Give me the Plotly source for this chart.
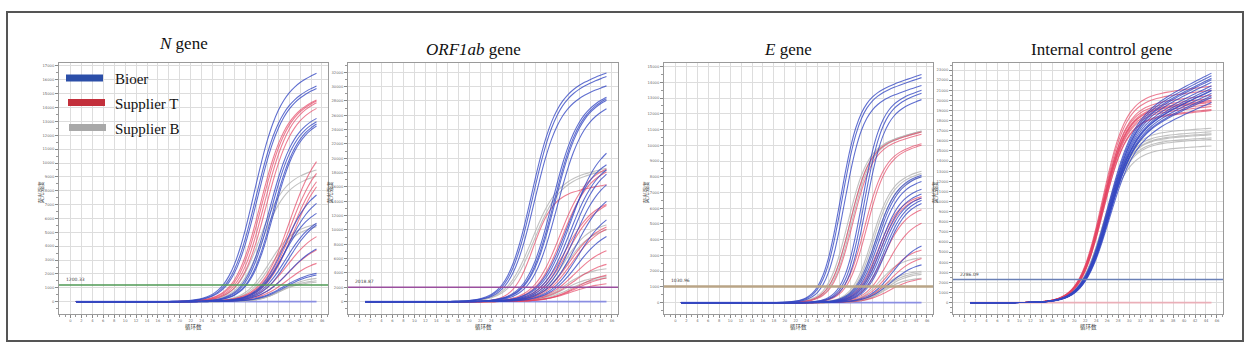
import numpy as np
import plotly.graph_objects as go

W, H = 1252, 356
cycles = np.arange(1, 46)

# ---------------- data ----------------
# each curve: threshold cycle (Ct), fluorescence at cycle 45, curve steepness
# N gene
n_threshold = 1200.33
n_blue_ct = [27.9, 28.3, 28.6, 31.3, 31.6, 32.0, 32.2, 35.0, 35.5, 35.3, 36.0, 36.5, 37.5, 39.5, 40.0]
n_blue_end = [16470, 15550, 15380, 13220, 12980, 12810, 12670, 7690, 7090, 6370, 5650, 5530, 3800, 2040, 1920]
n_blue_s = [2.3, 2.3, 2.3, 2.2, 2.2, 2.2, 2.2, 2.4, 2.4, 2.4, 2.4, 2.4, 2.6, 2.4, 2.4]
n_red_ct = [29.3, 29.6, 30.0, 30.4, 34.5, 34.8, 35.2, 35.6, 36.5, 37.5, 38.5]
n_red_end = [14540, 14470, 14350, 13940, 10100, 9250, 8650, 8290, 4690, 3730, 2760]
n_red_s = [2.3, 2.3, 2.3, 2.3, 2.6, 2.6, 2.6, 2.6, 2.6, 2.6, 2.6]
n_gray_ct = [30.5, 31.0, 33.5, 34.0, 40.5, 41.0, 41.5]
n_gray_end = [9500, 9050, 5600, 5400, 1680, 1510, 1400]
n_gray_s = [2.2, 2.2, 2.2, 2.2, 2.0, 2.0, 2.0]

# ORF1ab gene
o_threshold = 2018.87
o_blue_ct = [25.6, 25.9, 26.3, 29.3, 29.6, 29.8, 30.3, 32.5, 32.2, 33.0, 33.5, 34.0, 34.5, 35.5, 36.0]
o_blue_end = [31900, 31400, 30100, 28500, 28300, 28100, 26900, 20700, 19100, 18400, 17800, 16300, 14000, 11400, 9100]
o_blue_s = [2.2, 2.2, 2.2, 2.3, 2.3, 2.3, 2.3, 2.6, 2.5, 2.5, 2.5, 2.5, 2.6, 2.6, 2.6]
o_red_ct = [28.3, 31.5, 32.0, 33.0, 33.5, 34.5, 35.0, 36.5, 37.5, 39.5, 40.0, 41.5]
o_red_end = [16300, 18500, 18100, 13600, 13400, 10400, 10100, 7100, 5200, 3700, 3300, 2500]
o_red_s = [1.8, 2.4, 2.4, 2.5, 2.5, 2.5, 2.5, 2.6, 2.6, 2.6, 2.6, 2.6]
o_gray_ct = [26.8, 27.2, 34.0, 34.5, 37.0, 38.0, 39.0]
o_gray_end = [18600, 18300, 10700, 10000, 4600, 3500, 3300]
o_gray_s = [2.3, 2.3, 2.2, 2.2, 2.2, 2.2, 2.4]

# E gene
e_threshold = 1030.96
e_blue_ct = [26.0, 26.3, 26.8, 30.0, 30.4, 30.8, 33.0, 33.3, 33.6, 34.0, 34.3, 34.6, 35.0, 35.3, 37.5, 38.5]
e_blue_end = [14500, 14300, 13800, 13500, 13300, 12900, 8100, 8000, 7700, 7200, 6900, 6650, 6500, 6300, 3600, 2400]
e_blue_s = [1.7, 1.7, 1.7, 1.7, 1.7, 1.7, 1.9, 1.9, 1.9, 1.9, 1.9, 1.9, 1.9, 1.9, 2.2, 2.2]
e_red_ct = [28.0, 28.5, 30.8, 31.2, 33.8, 34.2, 35.0, 36.0, 37.0, 38.0, 40.5]
e_red_end = [10850, 10700, 10100, 10000, 6750, 6650, 5900, 5050, 3350, 2800, 1500]
e_red_s = [1.8, 1.8, 1.8, 1.8, 1.9, 1.9, 2.0, 2.1, 2.1, 2.1, 2.1]
e_gray_ct = [27.6, 28.0, 28.3, 32.5, 32.8, 33.2, 36.5, 38.0, 38.5, 39.0, 39.5]
e_gray_end = [10900, 10900, 10850, 8350, 8200, 8000, 2850, 2000, 1900, 1800, 1550]
e_gray_s = [1.8, 1.8, 1.8, 1.8, 1.8, 1.8, 1.8, 1.8, 1.8, 1.8, 1.8]

# Internal control gene
ic_threshold = 2286.09
ic_blue_ct = [21.6, 21.7, 21.8, 21.8, 21.9, 21.9, 22.0, 22.0, 22.1, 22.1, 22.2, 21.9, 22.0]
ic_blue_end = [22700, 22450, 22200, 22050, 21800, 21450, 21200, 20950, 20700, 20450, 19800, 21000, 20300]
ic_blue_s = [2.3] * 13
ic_red_ct = [20.8, 20.9, 20.9, 21.0, 21.0, 21.1, 21.1, 21.2, 21.2, 21.0, 21.1]
ic_red_end = [21400, 21000, 20200, 20000, 19800, 19600, 19400, 19100, 19000, 20500, 19900]
ic_red_s = [2.1] * 11
ic_gray_ct = [21.5, 21.5, 21.6, 21.6, 21.7, 21.7, 21.6]
ic_gray_end = [17250, 16900, 16600, 16300, 16150, 15500, 16700]
ic_gray_s = [2.2] * 7

# plateau drift per cycle (fraction of end value)
n_drift, o_drift, e_drift = 0.008, 0.008, 0.008
ic_blue_drift, ic_red_drift, ic_gray_drift = 0.012, 0.003, 0.002

# negative control (flat) readings
neg_control = [0] * 45

n_yticks = list(range(0, 17001, 1000))
o_yticks = list(range(0, 32001, 2000))
e_yticks = list(range(0, 15001, 1000))
ic_yticks = list(range(0, 23001, 1000))
x_ticks = list(range(0, 47, 2))


def amp_curve(ct, end, s, thr, drift):
    """Sigmoid through (ct, thr) and (45, end) with a slowly drifting plateau."""
    c = 1 - drift * (45 - ct)
    k = np.exp((45 - ct) / s)
    a = (end * c - thr) / (thr * k - end * c)
    P = end * (1 + a)
    m = 45 + s * np.log(a)
    plateau = P * (1 - drift * (45 - cycles))
    return plateau / (1 + np.exp(-(cycles - m) / s))


def fx(px):
    return px / W


def fy(py):
    return 1 - py / H


BLUE = "rgba(52,72,195,0.78)"
RED = "rgba(228,66,98,0.68)"
GRAY = "rgba(182,182,182,0.85)"

fig = go.Figure()

panels = [
    dict(ax="", x0=59, x1=328, yr=[-890, 17250], yt=n_yticks, ystep=1000, thr=n_threshold,
         thrcol="#4f9a55", thrw=1.6, lab="1200.33", negcol="rgba(110,115,225,0.75)",
         groups=[(n_gray_ct, n_gray_end, n_gray_s, GRAY, n_drift),
                 (n_red_ct, n_red_end, n_red_s, RED, n_drift),
                 (n_blue_ct, n_blue_end, n_blue_s, BLUE, n_drift)]),
    dict(ax="2", x0=348, x1=618, yr=[-1720, 33360], yt=o_yticks, ystep=2000, thr=o_threshold,
         thrcol="#9a4f9e", thrw=1.6, lab="2018.87", negcol="rgba(110,115,225,0.75)",
         groups=[(o_gray_ct, o_gray_end, o_gray_s, GRAY, o_drift),
                 (o_red_ct, o_red_end, o_red_s, RED, o_drift),
                 (o_blue_ct, o_blue_end, o_blue_s, BLUE, o_drift)]),
    dict(ax="3", x0=664, x1=933, yr=[-720, 15260], yt=e_yticks, ystep=1000, thr=e_threshold,
         thrcol="#b9a486", thrw=2.6, lab="1030.96", negcol="rgba(110,115,225,0.75)",
         groups=[(e_gray_ct, e_gray_end, e_gray_s, GRAY, e_drift),
                 (e_red_ct, e_red_end, e_red_s, RED, e_drift),
                 (e_blue_ct, e_blue_end, e_blue_s, BLUE, e_drift)]),
    dict(ax="4", x0=953, x1=1223, yr=[-1120, 23750], yt=ic_yticks, ystep=1000, thr=ic_threshold,
         thrcol="#6a80b6", thrw=1.6, lab="2286.09", negcol="rgba(235,170,180,0.9)",
         groups=[(ic_gray_ct, ic_gray_end, ic_gray_s, GRAY, ic_gray_drift),
                 (ic_red_ct, ic_red_end, ic_red_s, RED, ic_red_drift),
                 (ic_blue_ct, ic_blue_end, ic_blue_s, BLUE, ic_blue_drift)]),
]

ydom = [fy(314), fy(62.5)]
tickfont = dict(family="DejaVu Sans", size=3.7, color="#666")
shapes = []
annotations = []

for p in panels:
    xa, ya = "x" + p["ax"], "y" + p["ax"]
    fig.add_trace(go.Scatter(x=cycles, y=neg_control, mode="lines", xaxis=xa, yaxis=ya,
                             line=dict(color=p["negcol"], width=1.6), hoverinfo="skip"))
    for cts, ends, ss, col, dr in p["groups"]:
        for ct, en, s in zip(cts, ends, ss):
            fig.add_trace(go.Scatter(x=cycles, y=amp_curve(ct, en, s, p["thr"], dr), mode="lines",
                                     xaxis=xa, yaxis=ya, hoverinfo="skip",
                                     line=dict(color=col, width=1.1, shape="spline", smoothing=0.6)))
    axkey = "xaxis" + p["ax"]
    aykey = "yaxis" + p["ax"]
    fig.layout[axkey] = dict(
        domain=[fx(p["x0"]), fx(p["x1"])], range=[-2.1, 47.1], anchor=ya,
        tickmode="array", tickvals=x_ticks, ticktext=[str(v) for v in x_ticks],
        ticks="outside", ticklen=3, tickcolor="#888", tickfont=tickfont,
        showgrid=True, gridcolor="#dddddd", gridwidth=1, zeroline=False,
        showline=True, linecolor="#9a9a9a", linewidth=1, mirror=True,
        minor=dict(tickmode="linear", tick0=0, dtick=1, ticks="outside", ticklen=2,
                   tickcolor="#999", showgrid=False),
    )
    fig.layout[aykey] = dict(
        domain=ydom, range=p["yr"], anchor=xa,
        tickmode="array", tickvals=p["yt"], ticktext=[str(v) for v in p["yt"]],
        ticks="outside", ticklen=3, tickcolor="#888", tickfont=tickfont,
        showgrid=True, gridcolor="#dddddd", gridwidth=1, zeroline=False,
        showline=True, linecolor="#9a9a9a", linewidth=1, mirror=True,
        minor=dict(tickmode="linear", tick0=0, dtick=p["ystep"] / 2, ticks="outside",
                   ticklen=2, tickcolor="#999", showgrid=False),
    )
    shapes.append(dict(type="line", xref=xa + " domain", yref=ya, x0=0, x1=1,
                       y0=p["thr"], y1=p["thr"], line=dict(color=p["thrcol"], width=p["thrw"])))
    annotations.append(dict(xref=xa + " domain", yref=ya, x=0.02, y=p["thr"], text=p["lab"],
                            showarrow=False, xanchor="left", yanchor="bottom", yshift=1,
                            font=dict(family="DejaVu Sans", size=4.5, color="#444")))
    cx = (p["x0"] + p["x1"]) / 2
    annotations.append(dict(xref="paper", yref="paper", x=fx(cx), y=fy(327), text="循环数",
                            showarrow=False, xanchor="center", yanchor="middle",
                            font=dict(family="Noto Sans CJK SC", size=5.5, color="#444")))
    annotations.append(dict(xref="paper", yref="paper", x=fx(p["x0"] - 18.5), y=fy(192), text="荧光强度",
                            showarrow=False, textangle=-90, xanchor="center", yanchor="middle",
                            font=dict(family="Noto Sans CJK SC", size=5.5, color="#444")))

# panel titles
title_font = dict(family="Liberation Serif, Times New Roman, serif", size=17, color="#111")
for txt, px, py in [("<i>N</i> gene", 183, 44), ("<i>ORF1ab</i> gene", 473, 49.5),
                    ("<i>E</i> gene", 788, 49.5), ("Internal control gene", 1102, 49.5)]:
    annotations.append(dict(xref="paper", yref="paper", x=fx(px), y=fy(py), text=txt,
                            showarrow=False, xanchor="center", yanchor="middle", font=title_font))

# legend (inside N-gene panel)
legend_items = [("Bioer", "#2b4ea8", 66, 103, 78), ("Supplier T", "#c3303c", 68, 105, 102.5),
                ("Supplier B", "#a9a9a9", 69, 106, 127.5)]
for name, col, lx0, lx1, ly in legend_items:
    shapes.append(dict(type="line", xref="paper", yref="paper", x0=fx(lx0), x1=fx(lx1),
                       y0=fy(ly), y1=fy(ly), line=dict(color=col, width=7)))
    annotations.append(dict(xref="paper", yref="paper", x=fx(113), y=fy(ly + 1), text=name,
                            showarrow=False, xanchor="left", yanchor="middle",
                            font=dict(family="Liberation Serif, Times New Roman, serif", size=15, color="#111")))

# outer frame
shapes.append(dict(type="rect", xref="paper", yref="paper", x0=fx(7), x1=fx(1243), y0=fy(341), y1=fy(12),
                   line=dict(color="#555", width=2)))

fig.update_layout(width=W, height=H, margin=dict(l=0, r=0, t=0, b=0), showlegend=False,
                  plot_bgcolor="white", paper_bgcolor="white", shapes=shapes, annotations=annotations)

fig.write_html("out.html", post_script="document.body.style.margin='0px';",
               config={"displayModeBar": False})
